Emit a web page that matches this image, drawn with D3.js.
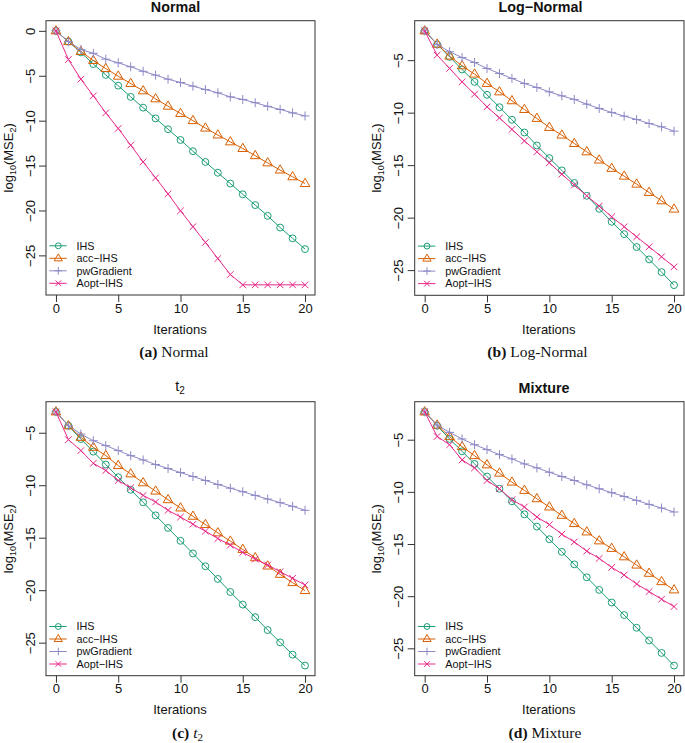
<!DOCTYPE html>
<html><head><meta charset="utf-8">
<script src="https://cdn.jsdelivr.net/npm/d3@7"></script>
<style>body{margin:0;background:#fff} svg{display:block}</style>
</head><body><svg id="c" width="685" height="743"></svg>
<script>
// ---------- DATA ----------
const iterations = [0,1,2,3,4,5,6,7,8,9,10,11,12,13,14,15,16,17,18,19,20];
const seriesNames = ["IHS", "acc\u2212IHS", "pwGradient", "Aopt\u2212IHS"];
const xTicks = [0,5,10,15,20];

// (a) Normal
const normalIHS  = [0,-1.2,-2.4,-3.7,-4.9,-6.1,-7.35,-8.55,-9.75,-10.95,-12.15,-13.4,-14.6,-15.8,-17.0,-18.2,-19.4,-20.6,-21.9,-23.1,-24.3];
const normalAcc  = [0,-1.2,-2.3,-3.3,-4.2,-5.05,-5.86,-6.68,-7.57,-8.39,-9.2,-10.0,-10.83,-11.6,-12.36,-13.1,-13.9,-14.7,-15.5,-16.25,-17.0];
const normalPw   = [0,-1.2,-2.07,-2.5,-3.15,-3.56,-4.0,-4.5,-4.93,-5.38,-5.75,-6.16,-6.53,-6.9,-7.35,-7.64,-8.0,-8.4,-8.75,-9.13,-9.47];
const normalAopt = [0,-3.19,-5.38,-7.24,-9.13,-10.87,-12.73,-14.59,-16.37,-18.15,-20.04,-21.8,-23.56,-25.35,-27.13,-28.28,-28.28,-28.28,-28.28,-28.28,-28.28];

// (b) Log-Normal
const lognIHS  = [-2.21,-3.5,-4.69,-5.89,-7.07,-8.3,-9.48,-10.68,-11.89,-13.13,-14.33,-15.5,-16.7,-17.92,-19.16,-20.4,-21.57,-22.8,-23.98,-25.19,-26.43];
const lognAcc  = [-2.21,-3.48,-4.62,-5.54,-6.33,-7.22,-8.02,-8.87,-9.7,-10.55,-11.41,-12.14,-12.94,-13.73,-14.52,-15.31,-16.05,-16.81,-17.6,-18.4,-19.19];
const lognPw   = [-2.21,-3.5,-4.2,-4.75,-5.22,-5.79,-6.27,-6.74,-7.22,-7.6,-8.02,-8.4,-8.74,-9.19,-9.6,-9.98,-10.33,-10.65,-11.03,-11.35,-11.76];
const lognAopt = [-2.21,-4.52,-5.79,-7.07,-8.24,-9.45,-10.5,-11.6,-12.69,-13.73,-14.78,-15.86,-16.9,-17.92,-18.9,-19.92,-20.87,-21.83,-22.78,-23.73,-24.69];

// (c) t2
const t2IHS  = [-3.01,-4.34,-5.6,-6.8,-8.03,-9.24,-10.43,-11.63,-12.87,-14.07,-15.3,-16.5,-17.72,-18.93,-20.17,-21.37,-22.57,-23.8,-24.97,-26.14,-27.18];
const t2Acc  = [-3.01,-4.34,-5.44,-6.39,-7.18,-8.13,-8.92,-9.77,-10.56,-11.38,-12.17,-12.96,-13.75,-14.54,-15.33,-16.12,-16.91,-17.7,-18.49,-19.28,-20.04];
const t2Pw   = [-3.01,-4.34,-5.13,-5.76,-6.23,-6.7,-7.18,-7.59,-8.03,-8.41,-8.79,-9.17,-9.55,-9.93,-10.28,-10.62,-10.97,-11.32,-11.66,-12.01,-12.39];
const t2Aopt = [-3.01,-5.66,-6.7,-7.91,-8.6,-9.55,-10.24,-10.97,-11.6,-12.39,-13.03,-13.72,-14.38,-15.08,-15.71,-16.4,-17.04,-17.6,-18.24,-18.87,-19.5];

// (d) Mixture
const mixIHS  = [-2.33,-3.66,-4.93,-6.11,-7.32,-8.53,-9.7,-10.91,-12.15,-13.33,-14.54,-15.75,-16.95,-18.19,-19.4,-20.61,-21.81,-23.03,-24.24,-25.44,-26.65];
const mixAcc  = [-2.33,-3.6,-4.71,-5.67,-6.53,-7.41,-8.21,-9.07,-9.86,-10.66,-11.45,-12.25,-13.04,-13.84,-14.7,-15.42,-16.23,-17.02,-17.81,-18.61,-19.4];
const mixPw   = [-2.33,-3.6,-4.3,-4.93,-5.48,-5.95,-6.43,-6.84,-7.32,-7.7,-8.12,-8.53,-8.91,-9.32,-9.7,-10.08,-10.44,-10.82,-11.2,-11.55,-11.93];
const mixAopt = [-2.33,-4.69,-5.48,-6.94,-7.7,-8.91,-9.7,-10.75,-11.45,-12.41,-13.14,-14.06,-14.8,-15.68,-16.38,-17.24,-17.97,-18.83,-19.56,-20.29,-21.0];

const panelTitles = ["Normal", "Log\u2212Normal", "t", "Mixture"];
const captionLetters = ["(a)", "(b)", "(c)", "(d)"];
const captionTexts = ["Normal", "Log-Normal", "t", "Mixture"];

// ---------- STYLE / LAYOUT ----------
const colors = ["#1B9E77", "#D95F02", "#8d89c6", "#E7298A"];
const symbols = ["circle", "triangle", "plus", "cross"];
const panels = [
  {series:[normalIHS,normalAcc,normalPw,normalAopt], left:46, right:315, top:20.7, bottom:295, titleX:175.5, capX:174, bold:true, sub:null, yLabX:8},
  {series:[lognIHS,lognAcc,lognPw,lognAopt], left:414.7, right:684, top:20.7, bottom:295.3, titleX:540.5, capX:537.5, bold:true, sub:null, yLabX:376.7},
  {series:[t2IHS,t2Acc,t2Pw,t2Aopt], left:46, right:315, top:401.7, bottom:675.7, titleX:180, capX:187.5, bold:false, sub:"2", yLabX:8},
  {series:[mixIHS,mixAcc,mixPw,mixAopt], left:414.7, right:684, top:401.7, bottom:675.7, titleX:544, capX:545, bold:true, sub:null, yLabX:376.7}
];
const sans = "'Liberation Sans', Arial, Helvetica, sans-serif";
const serif = "'Liberation Serif', 'Times New Roman', serif";

const svg = d3.select("#c");

function symbolPath(type, s) {
  if (type === "circle") return null;
  if (type === "triangle") { const r = 4.8*s; return `M0,${-r*1.1}L${r},${r*0.62}L${-r},${r*0.62}Z`; }
  if (type === "plus") { const r = 4.5*s; return `M${-r},0H${r}M0,${-r}V${r}`; }
  const r = 3.3*s; return `M${-r},${-r}L${r},${r}M${-r},${r}L${r},${-r}`;
}
function drawSymbol(g, type, x, y, color, s) {
  if (type === "circle") {
    g.append("circle").attr("cx", x).attr("cy", y).attr("r", 3.45*s)
      .attr("fill","none").attr("stroke",color).attr("stroke-width",1);
  } else {
    g.append("path").attr("d", symbolPath(type, s)).attr("transform",`translate(${x},${y})`)
      .attr("fill","none").attr("stroke",color).attr("stroke-width",1);
  }
}

panels.forEach((p, pi) => {
  const g = svg.append("g");
  const all = p.series.flat();
  const [mn, mx] = d3.extent(all);
  const pad = (mx - mn) * 0.04;
  const x = d3.scaleLinear().domain([-0.8, 20.8]).range([p.left, p.right]);
  const y = d3.scaleLinear().domain([mn - pad, mx + pad]).range([p.bottom, p.top]);

  // series
  p.series.forEach((vals, si) => {
    const line = d3.line().x((d,i) => x(iterations[i])).y(d => y(d));
    g.append("path").datum(vals).attr("d", line).attr("fill","none")
      .attr("stroke", colors[si]).attr("stroke-width", 1);
    vals.forEach((v, i) => drawSymbol(g, symbols[si], x(iterations[i]), y(v), colors[si], 1));
  });

  // box
  g.append("rect").attr("x", p.left).attr("y", p.top)
    .attr("width", p.right - p.left).attr("height", p.bottom - p.top)
    .attr("fill","none").attr("stroke","#333").attr("stroke-width",1);

  // x axis
  const xa = g.append("g").attr("transform",`translate(0,${p.bottom})`)
    .call(d3.axisBottom(x).tickValues(xTicks).tickSize(7).tickPadding(1.5));
  xa.select(".domain").remove();
  xa.selectAll("line").attr("stroke","#333");
  xa.selectAll("text").attr("font-family", sans).attr("font-size", 13).attr("fill","#111");

  // y axis
  const yTicks = d3.range(0, -30, -5).filter(t => t >= y.domain()[0] && t <= y.domain()[1]);
  const ya = g.append("g").attr("transform",`translate(${p.left},0)`)
    .call(d3.axisLeft(y).tickValues(yTicks).tickSize(7));
  ya.select(".domain").remove();
  ya.selectAll("line").attr("stroke","#333");
  ya.selectAll("text").attr("x", null).attr("dy", null).attr("text-anchor","middle")
    .attr("transform","translate(-11.5,0) rotate(-90)")
    .attr("font-family", sans).attr("font-size", 13).attr("fill","#111");

  // title
  const t = g.append("text").attr("x", p.titleX).attr("y", p.top - 8.5)
    .attr("text-anchor","middle").attr("font-family", sans)
    .attr("font-size", 14.3).attr("font-weight", p.bold ? "bold" : "normal").attr("fill","#111");
  t.append("tspan").text(panelTitles[pi]);
  if (p.sub) { t.attr("y", p.top - 11); t.append("tspan").attr("dy", 3.5).attr("font-size", 10).text(p.sub); }

  // x label
  g.append("text").attr("x", (p.left + p.right)/2 - 0.5).attr("y", p.bottom + 38.5)
    .attr("text-anchor","middle").attr("font-family", sans).attr("font-size", 13).attr("fill","#111")
    .text("Iterations");

  // y label
  const cy = (p.top + p.bottom)/2;
  const yl = g.append("text").attr("transform",`translate(${p.yLabX + 4.5},${cy}) rotate(-90)`)
    .attr("text-anchor","middle").attr("font-family", sans).attr("font-size", 13).attr("fill","#111");
  yl.append("tspan").text("log");
  yl.append("tspan").attr("dy", 3).attr("font-size", 9).text("10");
  yl.append("tspan").attr("dy", -3).text("(MSE");
  yl.append("tspan").attr("dy", 3).attr("font-size", 9).text("2");
  yl.append("tspan").attr("dy", -3).text(")");

  // legend
  const legBottom = p.bottom - 11.7;
  seriesNames.forEach((name, si) => {
    const ly = legBottom - (3 - si) * 12.5;
    g.append("line").attr("x1", p.left + 3.3).attr("x2", p.left + 20.7)
      .attr("y1", ly).attr("y2", ly).attr("stroke", colors[si]).attr("stroke-width", 1);
    drawSymbol(g, symbols[si], p.left + 12.3, ly, colors[si], 0.85);
    g.append("text").attr("x", p.left + 30.5).attr("y", ly + 3.8)
      .attr("font-family", sans).attr("font-size", 10.8).attr("fill","#111").text(name);
  });

  // caption
  const cap = g.append("text").attr("x", p.capX).attr("y", p.bottom + 62)
    .attr("text-anchor","middle").attr("font-family", serif).attr("font-size", 15.5).attr("fill","#111");
  cap.append("tspan").attr("font-weight","bold").text(captionLetters[pi]);
  if (p.sub) {
    cap.append("tspan").text(" ");
    cap.append("tspan").attr("font-style","italic").text(captionTexts[pi]);
    cap.append("tspan").attr("dy", 3).attr("font-size", 11).text(p.sub);
  } else {
    cap.append("tspan").text(" " + captionTexts[pi]);
  }
});
</script>
</body></html>
